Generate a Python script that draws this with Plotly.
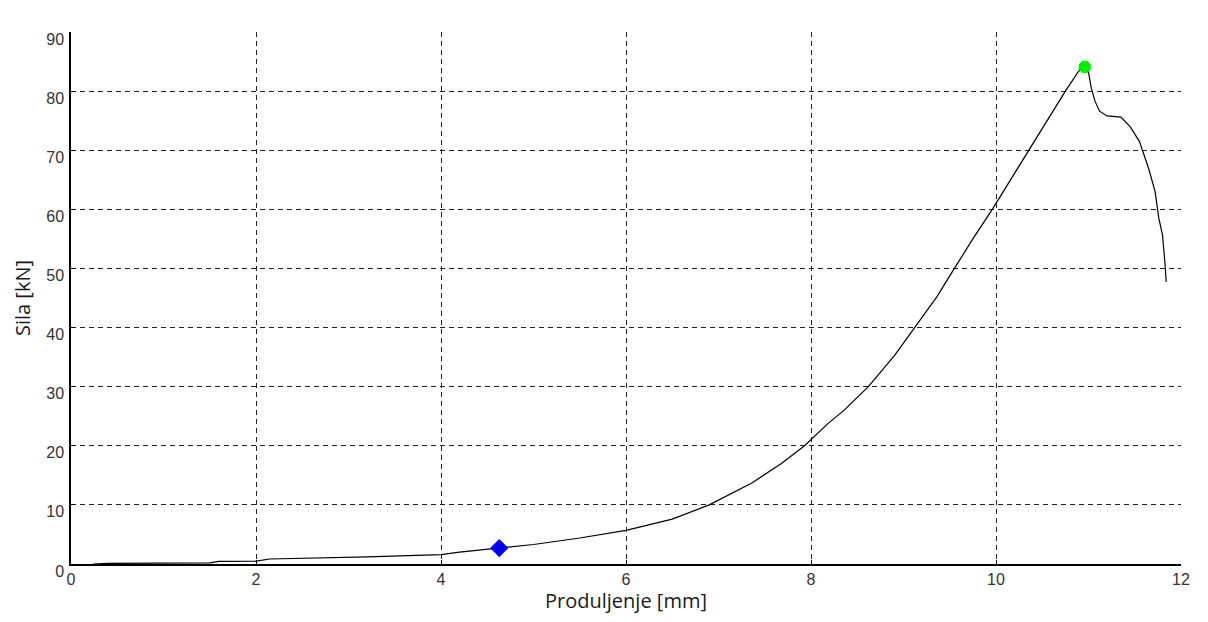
import plotly.graph_objects as go

# Extension [mm] and force [kN]
elong = [0.24, 0.4, 1.5, 1.6, 2.0, 2.15, 3.2, 4.0, 4.2, 4.63, 5.0, 5.5, 6.0, 6.5, 6.9,
         7.36, 7.68, 7.93, 8.18, 8.35, 8.62, 8.9, 9.12, 9.36, 9.55, 9.75, 9.96, 10.15,
         10.35, 10.55, 10.75, 10.89, 10.96, 11.0, 11.03, 11.07, 11.12, 11.2, 11.35,
         11.45, 11.55, 11.65, 11.72, 11.76, 11.8, 11.83, 11.84]
force = [0.0, 0.1, 0.2, 0.45, 0.5, 0.85, 1.2, 1.6, 2.0, 2.7, 3.3, 4.4, 5.7, 7.6, 10.0,
         13.7, 17.0, 20.0, 23.7, 25.9, 30.0, 35.2, 40.0, 45.2, 50.0, 55.0, 60.0, 64.8,
         70.0, 75.0, 80.0, 83.3, 84.1, 83.2, 80.5, 78.3, 76.6, 75.8, 75.6,
         74.0, 71.5, 66.9, 63.0, 58.5, 55.7, 50.2, 47.7]

blue_pt = (4.63, 2.7)
green_pt = (10.96, 84.1)

x_ticks = [0, 2, 4, 6, 8, 10, 12]
y_ticks = [0, 10, 20, 30, 40, 50, 60, 70, 80, 90]

fig = go.Figure()
fig.add_trace(go.Scatter(x=elong, y=force, mode="lines",
                         line=dict(color="black", width=1.2),
                         showlegend=False, hoverinfo="skip"))
fig.add_trace(go.Scatter(x=[blue_pt[0]], y=[blue_pt[1]], mode="markers",
                         marker=dict(symbol="diamond", size=14, color="#0000ff"),
                         showlegend=False))
fig.add_trace(go.Scatter(x=[green_pt[0]], y=[green_pt[1]], mode="markers",
                         marker=dict(symbol="octagon", size=13, color="#00ee00"),
                         showlegend=False))

tickfont = dict(family="Liberation Sans Narrow, Liberation Sans", size=16, color="#333333")
fig.update_layout(
    width=1192, height=606, autosize=False,
    margin=dict(l=63, r=10, t=24, b=44),
    plot_bgcolor="white", paper_bgcolor="white",
    xaxis=dict(range=[0, 12], tickvals=x_ticks, ticktext=[str(v) for v in x_ticks],
               showgrid=True, gridcolor="#222222", griddash="5px,4px", gridwidth=1,
               showline=True, linecolor="black", linewidth=1.5,
               ticks="inside", ticklen=4, tickcolor="black",
               tickfont=tickfont, zeroline=False,
               title=dict(text="Produljenje [mm]", standoff=2,
                          font=dict(family="Open Sans", size=20, color="#1a1a1a"))),
    yaxis=dict(range=[0, 90], tickvals=y_ticks, ticktext=[str(v) for v in y_ticks],
               showgrid=True, gridcolor="#222222", griddash="5px,4px", gridwidth=1,
               showline=True, linecolor="black", linewidth=1.5,
               ticks="inside", ticklen=4, tickcolor="black",
               tickfont=tickfont, zeroline=False, ticklabelstandoff=2,
               ticklabelshift=7,
               title=dict(text="Sila [kN]", standoff=10,
                          font=dict(family="Open Sans", size=20, color="#1a1a1a"))),
)

fig.write_html("out.html")
